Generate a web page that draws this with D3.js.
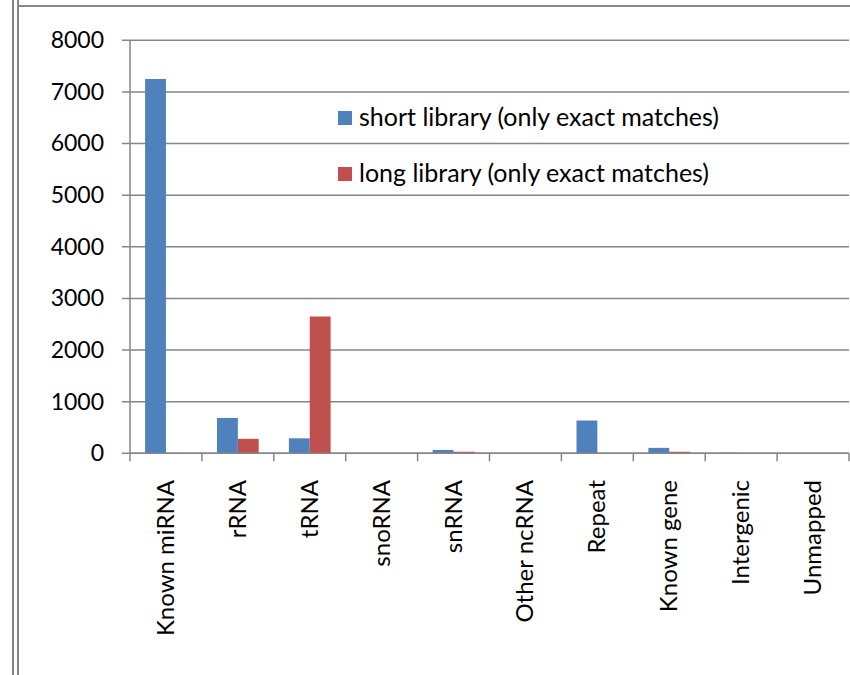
<!DOCTYPE html>
<html>
<head>
<meta charset="utf-8">
<script src="https://cdn.jsdelivr.net/npm/d3@7"></script>
<style>
  body { margin: 0; background: #fff; }
  text { font-family: Lato, "Open Sans", sans-serif; fill: #000; }
</style>
</head>
<body>
<div id="chart"></div>
<script>
// data
var categories = ["Known miRNA", "rRNA", "tRNA", "snoRNA", "snRNA", "Other ncRNA", "Repeat", "Known gene", "Intergenic", "Unmapped"];
var shortLib = [7250, 685, 290, 3, 65, 1, 635, 105, 8, 0];
var longLib = [0, 280, 2650, 1, 30, 0, 0, 30, 1, 0];
var seriesNames = ["short library (only exact matches)", "long library (only exact matches)"];
var yTicks = [0, 1000, 2000, 3000, 4000, 5000, 6000, 7000, 8000];

var colors = ["#4F81BD", "#C0504D"];
var gridColor = "#868686";

var svgWidth = 850;
var svgHeight = 675;

var svg = d3.select("#chart")
  .append("svg")
  .attr("width", svgWidth)
  .attr("height", svgHeight);

// frame lines (outer border of the embedded chart)
svg.append("line").attr("x1", 13).attr("x2", 13).attr("y1", 0).attr("y2", svgHeight)
  .attr("stroke", gridColor).attr("stroke-width", 2);
svg.append("line").attr("x1", 18).attr("x2", 18).attr("y1", 0).attr("y2", svgHeight)
  .attr("stroke", gridColor).attr("stroke-width", 2);
svg.append("line").attr("x1", 18).attr("x2", svgWidth).attr("y1", 6).attr("y2", 6)
  .attr("stroke", gridColor).attr("stroke-width", 2);

var plot = { left: 130, right: 849, top: 40.3, bottom: 453.3 };

var x0 = d3.scaleBand()
  .domain(categories)
  .range([plot.left, plot.right])
  .paddingInner(0.42)
  .paddingOuter(0.21);

var x1 = d3.scaleBand()
  .domain([0, 1])
  .range([0, x0.bandwidth()]);

var y = d3.scaleLinear()
  .domain([0, 8000])
  .range([plot.bottom, plot.top]);

// gridlines
svg.append("g")
  .selectAll("line")
  .data(yTicks)
  .enter()
  .append("line")
  .attr("x1", plot.left - 8)
  .attr("x2", plot.right)
  .attr("y1", d => y(d))
  .attr("y2", d => y(d))
  .attr("stroke", gridColor)
  .attr("stroke-width", 1.5);

// y axis
var leftAxis = d3.axisLeft(y).tickValues(yTicks).tickSize(8).tickPadding(18).tickFormat(d3.format("d"));
var yAxis = svg.append("g")
  .attr("transform", `translate(${plot.left}, 0)`)
  .call(leftAxis);
yAxis.select(".domain").remove();
yAxis.selectAll("line").remove();
yAxis.selectAll("text").style("font-size", "23px").attr("fill", "#000");

// bars
var seriesData = [shortLib, longLib];
categories.forEach(function(c, i) {
  seriesData.forEach(function(vals, s) {
    svg.append("rect")
      .attr("x", x0(c) + x1(s))
      .attr("y", y(vals[i]))
      .attr("width", x1.bandwidth())
      .attr("height", plot.bottom - y(vals[i]))
      .attr("fill", colors[s]);
  });
});

// y axis line
svg.append("line")
  .attr("x1", plot.left).attr("x2", plot.left)
  .attr("y1", plot.top).attr("y2", plot.bottom)
  .attr("stroke", gridColor).attr("stroke-width", 1.5);

// x axis line and ticks between categories
svg.append("line")
  .attr("x1", plot.left).attr("x2", plot.right)
  .attr("y1", plot.bottom).attr("y2", plot.bottom)
  .attr("stroke", gridColor).attr("stroke-width", 1.5);

var step = x0.step();
svg.append("g")
  .selectAll("line")
  .data(d3.range(categories.length + 1))
  .enter()
  .append("line")
  .attr("x1", d => plot.left + d * step)
  .attr("x2", d => plot.left + d * step)
  .attr("y1", plot.bottom)
  .attr("y2", plot.bottom + 8)
  .attr("stroke", gridColor)
  .attr("stroke-width", 1.5);

// category labels, rotated
svg.append("g")
  .selectAll("text")
  .data(categories)
  .enter()
  .append("text")
  .attr("transform", d => `translate(${x0(d) + x0.bandwidth() / 2 + 8}, 480) rotate(-90)`)
  .attr("text-anchor", "end")
  .style("font-size", "24px")
  .text(d => d);

// legend
var legend = svg.append("g");
seriesNames.forEach(function(name, s) {
  var ly = 118 + s * 56;
  legend.append("rect")
    .attr("x", 338)
    .attr("y", ly - 7)
    .attr("width", 14)
    .attr("height", 14)
    .attr("fill", colors[s]);
  legend.append("text")
    .attr("x", 359)
    .attr("y", ly + 8)
    .style("font-size", "25px")
    .text(name);
});
</script>
</body>
</html>
